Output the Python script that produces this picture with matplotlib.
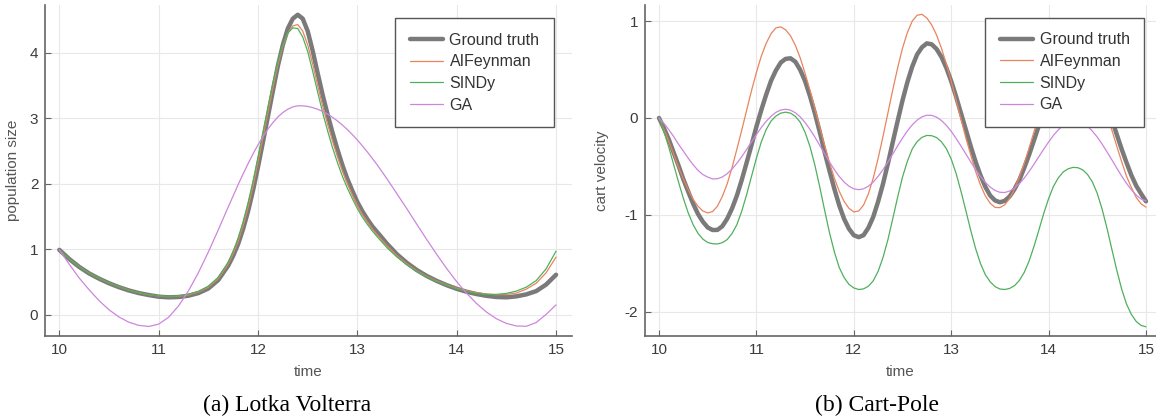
import numpy as np
import matplotlib
matplotlib.use("Agg")
import matplotlib.pyplot as plt

plt.rcParams["font.family"] = ["Liberation Sans", "DejaVu Sans"]
plt.rcParams["axes.unicode_minus"] = False

# time grids
t_lv = np.concatenate([np.linspace(10, 11.7, 18), np.linspace(11.75, 13.2, 30), np.linspace(13.3, 15, 18)])
t_cp = np.linspace(10, 15, 101)

# Lotka Volterra (population size)
lv_truth = [0.99, 0.85, 0.73, 0.63, 0.55, 0.48, 0.42, 0.37, 0.33, 0.30, 0.275, 0.265, 0.27, 0.29, 0.33, 0.40, 0.53, 0.75,
            0.90, 1.08, 1.31, 1.58, 1.90, 2.26, 2.64, 3.03, 3.42, 3.80, 4.12, 4.37, 4.52, 4.58, 4.52, 4.33, 4.03, 3.69,
            3.36, 3.06, 2.78, 2.52, 2.28, 2.07, 1.89, 1.72, 1.58, 1.46, 1.35, 1.26,
            1.08, 0.92, 0.79, 0.68, 0.59, 0.515, 0.45, 0.395, 0.35, 0.315, 0.288, 0.27, 0.265, 0.28, 0.31, 0.36, 0.46, 0.61]
lv_aif = [0.99, 0.85, 0.735, 0.635, 0.555, 0.485, 0.425, 0.375, 0.335, 0.305, 0.285, 0.275, 0.28, 0.30, 0.345, 0.42, 0.55, 0.77,
          0.93, 1.12, 1.36, 1.64, 1.97, 2.33, 2.71, 3.09, 3.47, 3.82, 4.10, 4.30, 4.41, 4.43, 4.33, 4.12, 3.83, 3.50,
          3.19, 2.91, 2.65, 2.41, 2.19, 2.00, 1.83, 1.67, 1.53, 1.42, 1.31, 1.22,
          1.05, 0.90, 0.775, 0.67, 0.585, 0.515, 0.455, 0.405, 0.365, 0.335, 0.315, 0.305, 0.31, 0.33, 0.39, 0.48, 0.64, 0.88]
lv_sindy = [0.99, 0.85, 0.735, 0.635, 0.555, 0.485, 0.425, 0.375, 0.335, 0.305, 0.285, 0.278, 0.285, 0.31, 0.355, 0.435, 0.57, 0.80,
            0.97, 1.17, 1.42, 1.71, 2.04, 2.41, 2.79, 3.17, 3.54, 3.87, 4.12, 4.30, 4.38, 4.37, 4.24, 4.02, 3.72, 3.40,
            3.09, 2.81, 2.55, 2.32, 2.11, 1.93, 1.77, 1.62, 1.49, 1.38, 1.28, 1.19,
            1.02, 0.88, 0.76, 0.66, 0.575, 0.505, 0.445, 0.395, 0.355, 0.325, 0.31, 0.31, 0.325, 0.36, 0.42, 0.52, 0.70, 0.97]
lv_ga = [0.99, 0.77, 0.56, 0.38, 0.215, 0.075, -0.035, -0.115, -0.163, -0.18, -0.144, -0.039, 0.134, 0.364, 0.642, 0.957, 1.296, 1.644,
         1.815, 1.987, 2.149, 2.307, 2.457, 2.594, 2.72, 2.835, 2.934, 3.019, 3.087, 3.138, 3.173, 3.189, 3.189, 3.18,
         3.162, 3.137, 3.104, 3.063, 3.014, 2.958, 2.895, 2.826, 2.749, 2.667, 2.579, 2.486, 2.388, 2.287,
         2.071, 1.842, 1.613, 1.377, 1.144, 0.918, 0.703, 0.504, 0.326, 0.17, 0.039, -0.062, -0.133, -0.172, -0.177, -0.12, 0.005, 0.15]

# Cart-Pole (cart velocity), one row per half time unit
cp_truth = [0.0, -0.105, -0.22, -0.356, -0.49, -0.633, -0.76, -0.884, -0.99, -1.07,
            -1.13, -1.156, -1.155, -1.117, -1.04, -0.934, -0.80, -0.638, -0.46, -0.279,
            -0.09, 0.081, 0.24, 0.383, 0.49, 0.572, 0.61, 0.616, 0.58, 0.496,
            0.38, 0.226, 0.05, -0.144, -0.35, -0.544, -0.73, -0.90, -1.04, -1.143,
            -1.21, -1.23, -1.21, -1.133, -1.02, -0.862, -0.68, -0.472, -0.25, -0.032,
            0.18, 0.369, 0.53, 0.655, 0.73, 0.77, 0.76, 0.711, 0.63, 0.518,
            0.38, 0.222, 0.05, -0.119, -0.29, -0.45, -0.59, -0.71, -0.80, -0.851,
            -0.87, -0.855, -0.81, -0.735, -0.64, -0.515, -0.38, -0.231, -0.08, 0.076,
            0.22, 0.355, 0.47, 0.56, 0.63, 0.662, 0.67, 0.644, 0.59, 0.508,
            0.40, 0.276, 0.14, -0.015, -0.17, -0.32, -0.46, -0.591, -0.70, -0.782,
            -0.86]
cp_aif = [0.0, -0.116, -0.24, -0.374, -0.51, -0.631, -0.74, -0.839, -0.91, -0.96,
          -0.98, -0.966, -0.91, -0.81, -0.68, -0.512, -0.32, -0.124, 0.08, 0.283,
          0.47, 0.637, 0.77, 0.869, 0.93, 0.94, 0.91, 0.848, 0.75, 0.619,
          0.46, 0.286, 0.10, -0.092, -0.28, -0.458, -0.62, -0.755, -0.86, -0.932,
          -0.97, -0.96, -0.90, -0.782, -0.62, -0.416, -0.19, 0.05, 0.29, 0.516,
          0.72, 0.881, 1.00, 1.06, 1.07, 1.032, 0.96, 0.856, 0.72, 0.558,
          0.38, 0.188, -0.01, -0.202, -0.38, -0.549, -0.69, -0.803, -0.88, -0.923,
          -0.925, -0.896, -0.83, -0.735, -0.61, -0.469, -0.31, -0.143, 0.03, 0.194,
          0.35, 0.485, 0.60, 0.681, 0.73, 0.75, 0.73, 0.683, 0.60, 0.491,
          0.36, 0.208, 0.04, -0.125, -0.29, -0.45, -0.60, -0.718, -0.82, -0.887,
          -0.92]
cp_sindy = [0.0, -0.14, -0.30, -0.48, -0.66, -0.83, -0.98, -1.10, -1.19, -1.25,
            -1.285, -1.298, -1.30, -1.287, -1.255, -1.192, -1.10, -0.96, -0.79, -0.601,
            -0.415, -0.248, -0.12, -0.032, 0.02, 0.05, 0.06, 0.05, 0.017, -0.044,
            -0.148, -0.295, -0.485, -0.71, -0.95, -1.182, -1.38, -1.542, -1.646, -1.717,
            -1.754, -1.77, -1.764, -1.736, -1.68, -1.582, -1.44, -1.257, -1.04, -0.818,
            -0.61, -0.447, -0.32, -0.244, -0.20, -0.18, -0.183, -0.202, -0.246, -0.316,
            -0.423, -0.571, -0.754, -0.954, -1.157, -1.345, -1.50, -1.616, -1.69, -1.74,
            -1.765, -1.77, -1.759, -1.731, -1.677, -1.594, -1.476, -1.326, -1.158, -0.986,
            -0.833, -0.706, -0.618, -0.557, -0.525, -0.51, -0.513, -0.535, -0.583, -0.66,
            -0.779, -0.942, -1.139, -1.356, -1.57, -1.764, -1.92, -2.027, -2.10, -2.141,
            -2.155]
cp_ga = [0.0, -0.055, -0.12, -0.191, -0.27, -0.342, -0.415, -0.482, -0.54, -0.584,
         -0.61, -0.629, -0.627, -0.609, -0.575, -0.527, -0.467, -0.399, -0.324, -0.247,
         -0.171, -0.099, -0.035, 0.017, 0.058, 0.082, 0.09, 0.081, 0.054, 0.011,
         -0.047, -0.118, -0.196, -0.282, -0.368, -0.453, -0.533, -0.603, -0.661, -0.704,
         -0.731, -0.74, -0.731, -0.704, -0.661, -0.602, -0.533, -0.455, -0.372, -0.288,
         -0.208, -0.134, -0.071, -0.022, 0.012, 0.028, 0.027, 0.008, -0.026, -0.076,
         -0.137, -0.21, -0.288, -0.37, -0.452, -0.53, -0.603, -0.664, -0.713, -0.748,
         -0.767, -0.769, -0.754, -0.723, -0.678, -0.62, -0.552, -0.478, -0.40, -0.322,
         -0.248, -0.18, -0.122, -0.077, -0.046, -0.031, -0.033, -0.052, -0.086, -0.136,
         -0.197, -0.27, -0.35, -0.432, -0.517, -0.599, -0.674, -0.741, -0.796, -0.837,
         -0.855]

names = ["Ground truth", "AIFeynman", "SINDy", "GA"]
colors = ["#7a7a7a", "#e8845f", "#4fb05c", "#cd86dc"]
widths = [3.2, 0.9, 0.9, 0.9]

fig = plt.figure(figsize=(11.56, 4.16), dpi=100)
ax1 = fig.add_axes([0.0392, 0.193, 0.4554, 0.795])
ax2 = fig.add_axes([0.5582, 0.1923, 0.4418, 0.7957])

panels = [
    (ax1, t_lv, [lv_truth, lv_aif, lv_sindy, lv_ga], "population size", (9.859, 15.158), (-0.321, 4.729),
     [0, 1, 2, 3, 4], (0.966, 0.960), -0.048),
    (ax2, t_cp, [cp_truth, cp_aif, cp_sindy, cp_ga], "cart velocity", (9.859, 15.103), (-2.25, 1.166),
     [-2, -1, 0, 1], (0.9765, 0.961), -0.071),
]

for ax, t, series, ylab, xl, yl, yt, leg_pos, ylab_x in panels:
    for vals, name, c, lw in zip(series, names, colors, widths):
        ax.plot(t, vals, color=c, lw=lw, label=name, solid_capstyle="round", solid_joinstyle="round")
    ax.set_xlim(*xl)
    ax.set_ylim(*yl)
    ax.set_xticks([10, 11, 12, 13, 14, 15])
    ax.set_yticks(yt)
    ax.grid(True, color="#e8e8e8", lw=0.8)
    ax.set_axisbelow(True)
    for s in ["top", "right"]:
        ax.spines[s].set_visible(False)
    for s in ["left", "bottom"]:
        ax.spines[s].set_color("#666666")
        ax.spines[s].set_linewidth(1.2)
    ax.tick_params(direction="in", length=4, width=0.8, color="#666666", labelcolor="#3c3c3c",
                   labelsize=11, pad=5)
    ax.set_xlabel("time", fontsize=11, color="#555555")
    ax.set_ylabel(ylab, fontsize=11, color="#555555")
    ax.xaxis.set_label_coords(0.5, -0.088)
    ax.yaxis.set_label_coords(ylab_x, 0.5)
    leg = ax.legend(loc="upper right", bbox_to_anchor=leg_pos, borderaxespad=0, fancybox=False,
                    framealpha=1, edgecolor="#555555", fontsize=11.5, handlelength=2.1,
                    handletextpad=0.4, borderpad=0.9, labelspacing=0.42)
    leg.get_frame().set_linewidth(1.0)
    for txt in leg.get_texts():
        txt.set_color("#333333")

fig.text(286.7 / 1156, 1 - 405 / 416, "(a) Lotka Volterra", ha="center", va="center",
         fontsize=17, family="Liberation Serif")
fig.text(877 / 1156, 1 - 405 / 416, "(b) Cart-Pole", ha="center", va="center",
         fontsize=17, family="Liberation Serif")

fig.savefig("out.png", dpi=100)
